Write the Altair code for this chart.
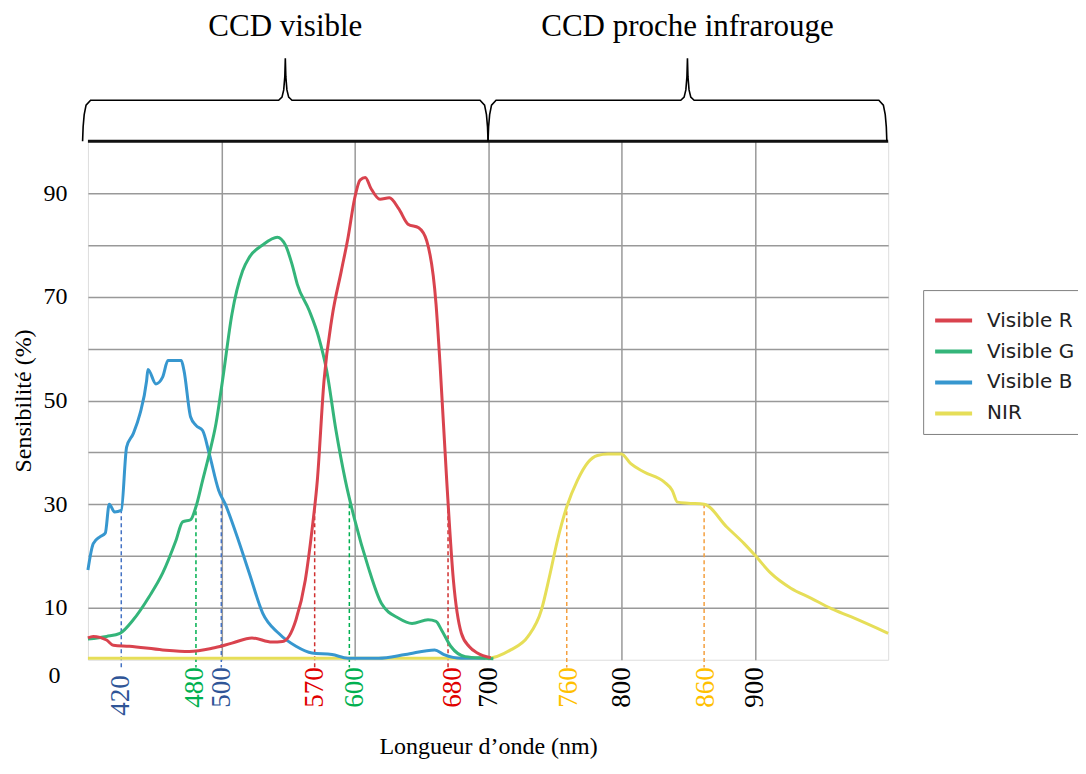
import altair as alt
import pandas as pd

# ---- spectral curves (wavelength nm, sensitivity %) ----
R_NM = [400, 404, 414, 419, 431, 456, 476, 493, 508, 523, 538, 546, 556, 563, 568, 572, 577, 583, 590,
        595, 600, 604, 608, 612, 619, 626, 633, 640, 648, 654, 661, 664, 669, 674, 680, 686, 692, 702]
R_VAL = [4.2, 4.5, 3.8, 2.8, 2.6, 1.9, 1.6, 2.2, 3.2, 4.2, 3.4, 3.5, 7.7, 15.4, 25, 34.6, 53.8, 66, 75,
         81.4, 89, 92.5, 93, 91, 88.8, 89.1, 87, 84, 83.3, 80.8, 68.6, 57, 34.6, 15.4, 5.1, 2.5, 1.3, 0.4]

G_NM = [400, 414, 424, 434, 446, 456, 466, 471, 477, 481, 486, 491, 496, 501, 508, 516, 521, 531, 542,
        548, 553, 557, 566, 573, 579, 586, 593, 600, 610, 620, 633, 643, 655, 661, 665, 672, 683, 698, 704]
G_VAL = [4.0, 4.5, 5.1, 7.7, 12.2, 16.7, 23, 26.6, 27, 29.5, 34.6, 39.7, 45.5, 54, 66.7, 75, 77.6, 80, 81.5,
         80, 76.3, 72.4, 67.3, 62.2, 55.8, 44.2, 34.6, 27, 18, 10.9, 8, 7, 7.7, 7.4, 5.8, 2.6, 0.6, 0.3, 0.2]

B_NM = [400, 404, 409, 413, 416, 420, 425, 429, 434, 439, 444, 445, 451, 456, 460, 470, 472, 477, 481,
        486, 491, 498, 503, 511, 521, 531, 543, 556, 568, 583, 595, 618, 638, 660, 667, 680, 698]
B_VAL = [17.3, 22.4, 23.7, 24.4, 30, 28.5, 28.8, 41, 43.6, 47.4, 53.8, 56, 53.2, 54.5, 57.7, 57.7, 55.8, 46.8, 45.2,
         44.2, 39.7, 32.7, 30, 24.4, 16.7, 9, 5.1, 2.6, 1.3, 1, 0.3, 0.3, 1, 1.9, 1, 0.3, 0.3]

N_NM = [400, 700, 717, 730, 740, 746, 752, 759, 767, 775, 782, 790, 800, 807, 817, 832, 838, 842, 850,
        862, 879, 892, 900, 912, 927, 942, 957, 972, 1000]
N_VAL = [0.3, 0.3, 1.9, 4.5, 9.6, 16, 23, 29.5, 34.6, 38.1, 39.4, 39.7, 39.7, 37.8, 36.2, 34.3, 32.7, 30.4, 30.2,
         30, 25.6, 22.4, 20.2, 16.7, 13.8, 11.9, 9.9, 8.3, 5.1]

SERIES = ["Visible R", "Visible G", "Visible B", "NIR"]
SERIES_COLORS = ["#d9434e", "#34b57a", "#3797cf", "#e6de58"]

# ---- axis ticks / annotations ----
TICK_NM = [420, 480, 500, 570, 600, 680, 700, 760, 800, 860, 900]
TICK_COLORS = ["#2f5597", "#00b050", "#2f5597", "#e00000", "#00b050", "#e00000",
               "#000000", "#ffc000", "#000000", "#ffc000", "#000000"]
TICK_SHIFT = {420: 6, 680: -9, 860: 4}   # small hand-placement nudges of labels (px)
# dashed markers: where each curve crosses ~30 %
DASH_NM = [425, 481, 500, 570, 596, 670, 759, 862]
DASH_TOP = [29, 30, 30, 29, 30, 29, 30, 30]
DASH_COLORS = ["#4472c4", "#00b050", "#4472c4", "#d03030", "#00b050", "#d03030", "#f4a040", "#f4a040"]
Y_TICKS = [0, 10, 20, 30, 40, 50, 60, 70, 80, 90, 100]
Y_LABELS = [0, 10, 30, 50, 70, 90]

BRACE_TITLES = ["CCD visible", "CCD proche infrarouge"]
BRACE_START = [396, 700]
BRACE_END = [700, 999]
BRACE_BASE = 100      # plot top
BRACE_LEVEL = 107.9   # horizontal bar of the brace
BRACE_TIP = 116       # tip of the brace
TITLE_Y = 122

SERIF = "Liberation Serif"

# ---- build tables ----
rows = []
for name, xs, ys in zip(SERIES, [R_NM, G_NM, B_NM, N_NM], [R_VAL, G_VAL, B_VAL, N_VAL]):
    for i, (x, y) in enumerate(zip(xs, ys)):
        rows.append({"nm": x, "val": y, "series": name, "i": i})
curves = pd.DataFrame(rows)

dashes = pd.DataFrame({"nm": DASH_NM, "top": DASH_TOP, "color": DASH_COLORS})

brace_rows = []
for k, (a, b) in enumerate(zip(BRACE_START, BRACE_END)):
    c = (a + b) / 2
    L, T, B0 = BRACE_LEVEL, BRACE_TIP, BRACE_BASE
    h = L - B0
    pts = [(a, B0), (a + 0.4, B0 + 0.35 * h), (a + 1.2, B0 + 0.65 * h), (a + 2.6, B0 + 0.88 * h), (a + 6, L),
           (c - 5, L), (c - 2.5, L + 0.6), (c - 1.2, L + 2.0), (c - 0.4, L + 4.5), (c, T),
           (c + 0.4, L + 4.5), (c + 1.2, L + 2.0), (c + 2.5, L + 0.6), (c + 5, L),
           (b - 6, L), (b - 2.6, B0 + 0.88 * h), (b - 1.2, B0 + 0.65 * h), (b - 0.4, B0 + 0.35 * h), (b, B0)]
    for i, (x, y) in enumerate(pts):
        brace_rows.append({"nm": x, "val": y, "brace": k, "i": i})
braces = pd.DataFrame(brace_rows)

titles = pd.DataFrame({"nm": [(a + b) / 2 for a, b in zip(BRACE_START, BRACE_END)],
                       "val": [TITLE_Y] * 2, "text": BRACE_TITLES})
topline = pd.DataFrame({"nm": [400], "nm2": [1000], "val": [100]})

color_cond = [{"test": f"datum.value == {v}", "value": c} for v, c in zip(TICK_NM, TICK_COLORS)]
shift_cond = [{"test": f"datum.value == {v}", "value": s} for v, s in TICK_SHIFT.items()]
y_label_test = " || ".join(f"datum.value == {v}" for v in Y_LABELS)

x_scale = alt.Scale(domain=[400, 1000], nice=False, zero=False)
y_scale = alt.Scale(domain=[0, 100], nice=False)

x_axis = alt.Axis(
    values=TICK_NM, title="Longueur d’onde (nm)", labelAngle=270,
    labelFont=SERIF, labelFontSize=27, labelColor={"condition": color_cond, "value": "#000000"},
    labelPadding={"condition": {"test": "datum.value == 420", "value": 15}, "value": 7},
    labelOffset={"condition": shift_cond, "value": 0},
    titleFont=SERIF, titleFontSize=24, titleFontWeight="normal", titleColor="#000000", titlePadding=19,
    ticks=False, domain=False, labelOverlap=False, labelFlush=False,
    grid=True, gridColor="#999999", gridWidth=1.5,
    gridOpacity={"condition": {"test": "datum.value % 100 == 0", "value": 1}, "value": 0},
)
y_axis = alt.Axis(
    values=Y_TICKS, title="Sensibilité (%)",
    labelExpr=f"({y_label_test}) ? datum.label : ''",
    labelFont=SERIF, labelFontSize=24, labelColor="#000000",
    labelPadding={"condition": {"test": "datum.value == 0", "value": 28}, "value": 21},
    labelOffset={"condition": {"test": "datum.value == 0", "value": 16}, "value": 0},
    titleFont=SERIF, titleFontSize=24, titleFontWeight="normal", titleColor="#000000", titlePadding=7,
    ticks=False, domain=False, labelOverlap=False, labelFlush=False,
    grid=True, gridColor="#999999", gridWidth=1.5,
    gridOpacity={"condition": {"test": "datum.value == 0 || datum.value == 100", "value": 0}, "value": 1},
)

lines = alt.Chart(curves).mark_line(strokeWidth=3, interpolate="monotone").encode(
    x=alt.X("nm:Q", scale=x_scale, axis=x_axis),
    y=alt.Y("val:Q", scale=y_scale, axis=y_axis),
    color=alt.Color("series:N", scale=alt.Scale(domain=SERIES, range=SERIES_COLORS),
                    legend=alt.Legend(title=None, orient="none", legendX=836, legendY=149,
                                      symbolType="stroke", symbolStrokeWidth=4, symbolSize=1369,
                                      labelFont="DejaVu Sans", labelFontSize=20, labelColor="#222222",
                                      labelOffset=13, rowPadding=0, padding=10,
                                      strokeColor="#808080", fillColor="#ffffff")),
    detail="series:N",
    order=alt.Order("i:Q"),
)
layers = [lines.transform_filter(alt.datum.series == name)
          for name in ["NIR", "Visible B", "Visible G", "Visible R"]]

dash_rules = alt.Chart(dashes).mark_rule(strokeWidth=1.5, strokeDash=[4, 3]).encode(
    x=alt.X("nm:Q", scale=x_scale),
    y=alt.Y("top:Q", scale=y_scale),
    y2=alt.datum(-1.5),
    color=alt.Color("color:N", scale=None),
)

top_rule = alt.Chart(topline).mark_rule(strokeWidth=3, color="#111111").encode(
    x=alt.X("nm:Q", scale=x_scale), x2="nm2:Q", y=alt.Y("val:Q", scale=y_scale)
)

brace_lines = alt.Chart(braces).mark_line(strokeWidth=1.6, color="#000000").encode(
    x=alt.X("nm:Q", scale=x_scale), y=alt.Y("val:Q", scale=y_scale),
    detail="brace:N", order=alt.Order("i:Q"),
)

title_text = alt.Chart(titles).mark_text(font=SERIF, fontSize=31, color="#000000", baseline="middle").encode(
    x=alt.X("nm:Q", scale=x_scale), y=alt.Y("val:Q", scale=y_scale), text="text:N"
)

chart = alt.layer(dash_rules, *layers, top_rule, brace_lines, title_text).properties(
    width=801, height=519,
    autosize=alt.AutoSizeParams(type="none"),
    padding={"left": 80, "top": 133, "right": 190, "bottom": 102},
).configure_view(stroke="#8a8a8a", strokeWidth=2).configure(background="#ffffff")

chart.save("out.html", embed_options={"renderer": "svg", "actions": False})
